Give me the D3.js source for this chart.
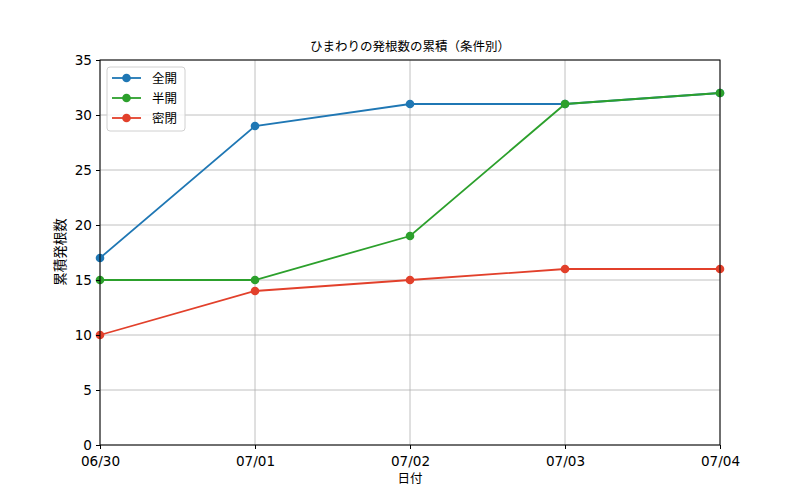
<!DOCTYPE html>
<html><head><meta charset="utf-8">
<script src="https://cdn.jsdelivr.net/npm/d3@7"></script>
<style>body{margin:0;background:#fff}svg text{font-family:"Noto Sans CJK JP","DejaVu Sans",sans-serif;}</style>
</head><body>
<svg id="c" width="800" height="500"></svg>
<script>
const dates = ["06/30","07/01","07/02","07/03","07/04"];
const seriesNames = ["全開","半開","密閉"];
const fullOpen = [17,29,31,31,32];
const halfOpen = [15,15,19,31,32];
const closed = [10,14,15,16,16];
const yTicks = [0,5,10,15,20,25,30,35];
const colors = ["#1f77b4","#2ca02c","#e2402b"];
const title = "ひまわりの発根数の累積（条件別）";
const xLabel = "日付", yLabel = "累積発根数";

const svg = d3.select("#c");
const L=100,R=720,T=60,B=445;
const x = d3.scalePoint().domain(dates).range([L,R]);
const y = d3.scaleLinear().domain([0,35]).range([B,T]);

svg.append("g").selectAll("line").data(dates).join("line")
  .attr("x1",d=>x(d)).attr("x2",d=>x(d)).attr("y1",T).attr("y2",B)
  .attr("stroke","#b0b0b0").attr("stroke-width",0.8);
svg.append("g").selectAll("line").data(yTicks).join("line")
  .attr("x1",L).attr("x2",R).attr("y1",d=>y(d)).attr("y2",d=>y(d))
  .attr("stroke","#b0b0b0").attr("stroke-width",0.8);

const all=[fullOpen,halfOpen,closed];
all.forEach((s,i)=>{
  const data = dates.map((d,j)=>[d,s[j]]);
  svg.append("path").datum(data)
    .attr("d",d3.line().x(d=>x(d[0])).y(d=>y(d[1])))
    .attr("fill","none").attr("stroke",colors[i]).attr("stroke-width",1.8);
  svg.append("g").selectAll("circle").data(data).join("circle")
    .attr("cx",d=>x(d[0])).attr("cy",d=>y(d[1])).attr("r",4.3).attr("fill",colors[i]);
});

svg.append("rect").attr("x",L).attr("y",T).attr("width",R-L).attr("height",B-T)
  .attr("fill","none").attr("stroke","#000").attr("stroke-width",1);

const xa = svg.append("g").attr("transform",`translate(0,${B})`).call(d3.axisBottom(x).tickSize(4).tickPadding(7));
const ya = svg.append("g").attr("transform",`translate(${L},0)`).call(d3.axisLeft(y).tickValues(yTicks).tickSize(4).tickPadding(4));
[xa,ya].forEach(a=>{a.select(".domain").remove();a.selectAll("text").attr("font-size",13.6).attr("fill","#000").style("font-family",'"DejaVu Sans",sans-serif');a.selectAll("line").attr("stroke","#000");});

svg.append("text").attr("x",410).attr("y",51).attr("text-anchor","middle").attr("font-size",12.5).text(title);
svg.append("text").attr("x",410).attr("y",483).attr("text-anchor","middle").attr("font-size",12.5).text(xLabel);
svg.append("text").attr("transform","translate(65,252) rotate(-90)").attr("text-anchor","middle").attr("font-size",13.5).text(yLabel);

const lg = svg.append("g");
lg.append("rect").attr("x",107).attr("y",67).attr("width",78).attr("height",64).attr("rx",3)
  .attr("fill","#fff").attr("fill-opacity",0.8).attr("stroke","#d0d0d0");
seriesNames.forEach((n,i)=>{
  const yy = 78 + i*20;
  lg.append("line").attr("x1",112).attr("x2",141).attr("y1",yy).attr("y2",yy).attr("stroke",colors[i]).attr("stroke-width",1.8);
  lg.append("circle").attr("cx",126.5).attr("cy",yy).attr("r",4.3).attr("fill",colors[i]);
  lg.append("text").attr("x",152).attr("y",yy+4.5).attr("font-size",12.5).text(n);
});
</script>
</body></html>
